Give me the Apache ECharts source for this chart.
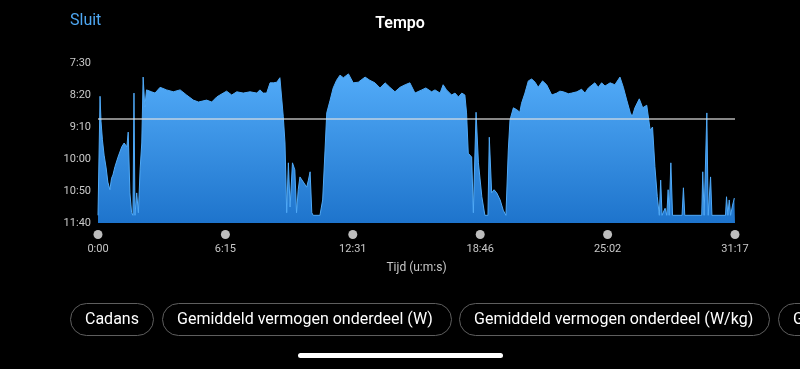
<!DOCTYPE html>
<html>
<head>
<meta charset="utf-8">
<script src="https://cdn.jsdelivr.net/npm/echarts@6/dist/echarts.min.js"></script>
<style>
html,body{margin:0;padding:0;background:#000;}
#chart{width:800px;height:369px;}
</style>
</head>
<body>
<div id="chart"></div>
<script>
// Elapsed time (s)
const timeSec = [0,4,6,9,13,18,24,29,35,40,44,50,59,70,77,85,89,94,99,103,106,109,114,119,124,129,133,138,143,148,158,168,183,202,222,242,261,281,296,320,335,350,369,379,394,409,428,448,468,477,487,497,507,517,527,536,541,546,551,556,561,566,573,580,585,590,595,605,615,620,625,630,634,654,662,669,674,684,693,703,713,723,738,752,767,787,801,816,831,846,860,875,890,905,919,934,954,966,983,993,1008,1017,1027,1042,1052,1062,1072,1081,1086,1091,1101,1106,1114,1121,1131,1140,1149,1153,1160,1167,1175,1185,1194,1202,1209,1214,1224,1234,1243,1248,1258,1268,1278,1288,1297,1310,1322,1337,1352,1361,1371,1386,1396,1411,1425,1435,1445,1464,1474,1484,1494,1509,1523,1538,1548,1558,1568,1574,1582,1595,1605,1617,1622,1627,1634,1641,1648,1654,1658,1662,1671,1676,1680,1683,1688,1693,1721,1725,1729,1779,1782,1786,1790,1794,1798,1802,1805,1809,1849,1852,1856,1860,1864,1867,1870,1875,1877];
// Pace (seconds per km)
const paceSec = [688,688,502,542,570,594,614,636,648,630,625,612,597,581,575,581,558,653,684,688,497,688,653,684,617,575,472,519,492,489,495,497,488,492,495,492,500,508,511,508,511,503,497,494,500,495,497,495,497,492,497,497,481,481,480,473,472,534,575,684,606,675,606,617,684,648,628,636,644,633,620,684,688,688,664,586,528,508,489,477,469,473,467,481,480,472,477,481,489,481,488,495,488,484,481,497,492,489,495,492,497,484,492,500,497,503,497,500,528,591,597,684,527,606,659,688,688,566,653,648,653,664,680,688,586,539,520,523,527,513,497,478,475,480,488,478,484,500,497,494,495,498,497,495,491,497,489,481,488,481,486,481,484,472,488,508,527,534,520,506,520,516,513,555,550,612,659,688,633,688,677,688,648,688,606,688,688,645,688,688,620,688,688,528,688,688,628,688,688,659,688,664,688,688,672,661,661];
const avgPace = 537;
const xTicks = [0, 375.4, 750.8, 1126.2, 1501.6, 1877];
const xTickLabels = ['0:00','6:15','12:31','18:46','25:02','31:17'];
const yTicks = [450, 500, 550, 600, 650, 700];
const yTickLabels = ['7:30','8:20','9:10','10:00','10:50','11:40'];
const chipLabels = ['Cadans','Gemiddeld vermogen onderdeel (W)','Gemiddeld vermogen onderdeel (W/kg)','Gemiddeld'];

const FONT = 'Roboto, "Noto Sans", sans-serif';
const chart = echarts.init(document.getElementById('chart'), null, {renderer:'canvas'});
const seriesData = timeSec.map((t,i)=>[t, paceSec[i]]);

// chips
const chipX = [70, 162, 459, 778];
const chipW = [83, 289, 310, 200];
const graphics = [];
chipLabels.forEach((lab,i)=>{
  graphics.push({type:'rect', left:chipX[i], top:303, shape:{width:chipW[i], height:32, r:16},
    style:{fill:'rgba(0,0,0,0)', stroke:'#5e5e5e', lineWidth:1}});
  graphics.push({type:'text', left: chipX[i]+15, top:312,
    style:{text:lab, fill:'#ffffff', font:'16px '+FONT}});
});
graphics.push({type:'rect', left:298, top:353, shape:{width:205, height:5, r:2.5}, style:{fill:'#ffffff'}});
graphics.push({type:'text', left:70, top:13, style:{text:'Sluit', fill:'#4ea7f2', font:'16px '+FONT}});

chart.setOption({
  backgroundColor:'#000',
  animation:false,
  title:{text:'Tempo', left:'center', top:11, textStyle:{color:'#fff', fontSize:16, fontWeight:600, fontFamily:FONT}},
  graphic: graphics,
  grid:{left:98, right:65, top:63, bottom:146, containLabel:false},
  xAxis:{
    type:'value', min:0, max:1877,
    axisLine:{show:false}, axisTick:{show:false, customValues:xTicks}, splitLine:{show:false},
    name:'Tijd (u:m:s)', nameLocation:'middle', nameGap:39,
    nameTextStyle:{color:'#c8c8c8', fontSize:12, fontFamily:FONT},
    axisLabel:{
      customValues:xTicks, margin:7, showMinLabel:true, showMaxLabel:true,
      formatter:(v)=>{ const i = xTicks.findIndex(x=>Math.abs(x-v)<0.5); return '{d| }\n{t|'+(i>=0?xTickLabels[i]:'')+'}'; },
      rich:{
        d:{width:9, height:9, borderRadius:4.5, backgroundColor:'#bdbdbd', align:'center'},
        t:{color:'#c8c8c8', fontSize:11, fontFamily:FONT, padding:[5,0,0,0], align:'center'}
      }
    }
  },
  yAxis:{
    type:'value', min:450, max:700, interval:50, inverse:true,
    axisLine:{show:false}, axisTick:{show:false}, splitLine:{show:false},
    axisLabel:{color:'#c8c8c8', fontSize:11, fontFamily:FONT, margin:7,
      formatter:(v)=>{ const i = yTicks.indexOf(v); return i>=0?yTickLabels[i]:''; }}
  },
  series:[{
    type:'line', data:seriesData, symbol:'none', smooth:false,
    lineStyle:{width:1, color:'#4fa9f7'},
    areaStyle:{origin:'end', opacity:1,
      color:new echarts.graphic.LinearGradient(0,0,0,1,[{offset:0,color:'#52abf8'},{offset:1,color:'#1e74cc'}])},
    markLine:{symbol:'none', silent:true, label:{show:false},
      lineStyle:{color:'rgba(225,225,225,0.8)', width:1.5, type:'solid'},
      data:[{yAxis:avgPace}]}
  }]
});
</script>
</body>
</html>
